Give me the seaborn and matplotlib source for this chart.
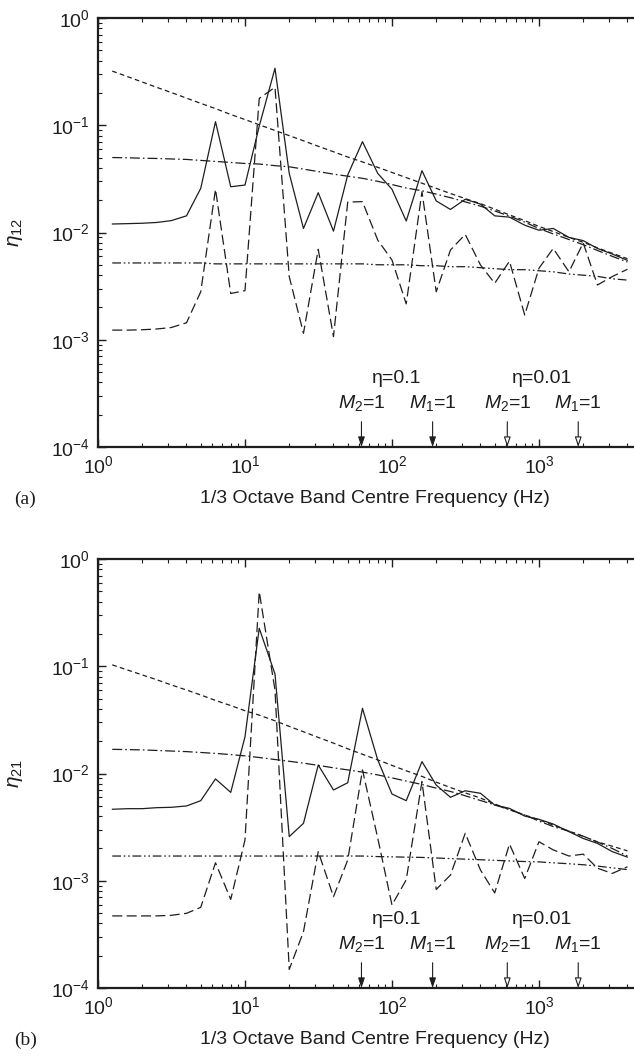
import matplotlib
matplotlib.use("Agg")
import matplotlib.pyplot as plt
import numpy as np
import pandas as pd
import seaborn as sns

# 1/3 octave band centre frequencies (Hz)
freq = [1.25, 1.6, 2, 2.5, 3.15, 4, 5, 6.3, 8, 10, 12.5, 16, 20, 25, 31.5, 40,
        50, 63, 80, 100, 125, 160, 200, 250, 315, 400, 500, 630, 800, 1000,
        1250, 1600, 2000, 2500, 3150, 4000]

# (a) eta_12
eta12_sim_01 = [0.0120, 0.0121, 0.0122, 0.0124, 0.0129, 0.0143, 0.0258, 0.108,
                0.0267, 0.0277, 0.098, 0.34, 0.0356, 0.0109, 0.0235, 0.0103,
                0.0344, 0.0703, 0.0356, 0.0253, 0.0128, 0.0377, 0.0197, 0.0164,
                0.0204, 0.0184, 0.0143, 0.0139, 0.0117, 0.0105, 0.0109, 0.0090,
                0.0084, 0.0071, 0.0063, 0.0055]
eta12_sim_001 = [0.00123, 0.00123, 0.00124, 0.00126, 0.0013, 0.00144, 0.0028,
                 0.0253, 0.0027, 0.00287, 0.178, 0.226, 0.00388, 0.00115,
                 0.00697, 0.00107, 0.0192, 0.0194, 0.0085, 0.00554, 0.00216,
                 0.024, 0.0028, 0.00687, 0.0096, 0.00498, 0.00336, 0.0054,
                 0.0017, 0.00464, 0.0071, 0.0043, 0.0080, 0.00324, 0.00388,
                 0.00454]
eta12_sea = [0.32, 0.283, 0.253, 0.226, 0.202, 0.179, 0.16, 0.143, 0.126, 0.113,
             0.101, 0.0894, 0.08, 0.0716, 0.0637, 0.0566, 0.0506, 0.0455, 0.0405,
             0.0363, 0.0325, 0.0288, 0.0258, 0.0231, 0.0207, 0.0186, 0.0165,
             0.0146, 0.0129, 0.0114, 0.0102, 0.0090, 0.0081, 0.0072, 0.0064,
             0.0057]
eta12_mod_01 = [0.050, 0.0497, 0.0493, 0.049, 0.0485, 0.048, 0.047, 0.046, 0.045,
                0.044, 0.0435, 0.042, 0.041, 0.039, 0.037, 0.035, 0.0335, 0.032,
                0.030, 0.028, 0.026, 0.0245, 0.0228, 0.0211, 0.0193, 0.0176,
                0.0159, 0.0142, 0.0125, 0.0109, 0.0097, 0.0086, 0.0077, 0.0068,
                0.0060, 0.0053]
eta12_mod_001 = [0.0052, 0.0052, 0.0052, 0.0052, 0.0052, 0.0052, 0.0052, 0.0051,
                 0.0051, 0.0051, 0.0051, 0.0051, 0.0051, 0.0051, 0.0051, 0.0051,
                 0.0051, 0.0051, 0.0050, 0.0050, 0.0050, 0.0049, 0.0049, 0.0048,
                 0.0048, 0.0047, 0.0046, 0.0045, 0.0045, 0.0044, 0.0043, 0.0041,
                 0.0040, 0.0039, 0.0037, 0.0036]

# (b) eta_21
eta21_sim_01 = [0.00464, 0.0047, 0.0047, 0.0048, 0.00484, 0.00498, 0.00558,
                0.0089, 0.00667, 0.022, 0.226, 0.0847, 0.00258, 0.00343, 0.012,
                0.00702, 0.0082, 0.0405, 0.0134, 0.00644, 0.00558, 0.0129,
                0.0078, 0.006, 0.0069, 0.00654, 0.00508, 0.00473, 0.00401,
                0.00374, 0.00338, 0.00287, 0.00248, 0.00223, 0.00187, 0.00166]
eta21_sim_001 = [0.00047, 0.00047, 0.00047, 0.00047, 0.000476, 0.000497,
                 0.000565, 0.00147, 0.00067, 0.0024, 0.496, 0.06, 0.000149,
                 0.000335, 0.00187, 0.00071, 0.00156, 0.0108, 0.0025, 0.000594,
                 0.00102, 0.0084, 0.00083, 0.00113, 0.00277, 0.00126, 0.00077,
                 0.0022, 0.00105, 0.00231, 0.00194, 0.0017, 0.00177, 0.00131,
                 0.00117, 0.00135]
eta21_sea = [0.103, 0.092, 0.083, 0.075, 0.067, 0.060, 0.054, 0.048, 0.043,
             0.0385, 0.035, 0.031, 0.0275, 0.0245, 0.0217, 0.0192, 0.017,
             0.0151, 0.0134, 0.0119, 0.0106, 0.0094, 0.0083, 0.0074, 0.0066,
             0.0059, 0.0052, 0.0046, 0.0041, 0.0037, 0.0033, 0.0029, 0.0026,
             0.0023, 0.0021, 0.0019]
eta21_mod_01 = [0.0168, 0.0167, 0.0166, 0.0164, 0.0162, 0.016, 0.0157, 0.0154,
                0.015, 0.0146, 0.0141, 0.0135, 0.013, 0.0125, 0.0119, 0.0113,
                0.0108, 0.0103, 0.0097, 0.0091, 0.0085, 0.0079, 0.0073, 0.0068,
                0.0062, 0.0056, 0.0051, 0.0046, 0.0041, 0.0036, 0.0032, 0.0029,
                0.0026, 0.0023, 0.0020, 0.0017]
eta21_mod_001 = [0.0017, 0.0017, 0.0017, 0.0017, 0.0017, 0.0017, 0.0017, 0.0017,
                 0.0017, 0.0017, 0.0017, 0.0017, 0.0017, 0.0017, 0.0017, 0.0017,
                 0.0017, 0.0017, 0.00168, 0.00167, 0.00166, 0.00165, 0.00163,
                 0.00161, 0.00159, 0.00157, 0.00155, 0.00153, 0.00151, 0.0015,
                 0.00147, 0.00144, 0.00141, 0.00137, 0.00132, 0.00127]

# M = 1 frequencies for the two damping values
m_freqs = [62, 189, 609, 1850]
m_labels = ['$M_2$=1', '$M_1$=1', '$M_2$=1', '$M_1$=1']
m_filled = [True, True, False, False]
eta_labels = ['η=0.1', 'η=0.01']
eta_label_freqs = [108, 1050]

curve_names = ['sim_01', 'sim_001', 'sea', 'mod_01', 'mod_001']
dash_map = {'sim_01': '', 'sim_001': (8.0, 3.5), 'sea': (3.8, 2.6),
            'mod_01': (8.0, 2.4, 1.3, 2.4),
            'mod_001': (7.0, 2.2, 1.3, 2.2, 1.3, 2.2)}


def make_frame(series):
    rows = []
    for name, vals in zip(curve_names, series):
        for f, v in zip(freq, vals):
            rows.append({'freq': f, 'eta': v, 'curve': name})
    return pd.DataFrame(rows)


sns.set_style('ticks')
plt.rcParams['font.family'] = ['Liberation Sans', 'DejaVu Sans']
plt.rcParams['mathtext.fontset'] = 'custom'
plt.rcParams['mathtext.rm'] = 'Liberation Sans'
plt.rcParams['mathtext.it'] = 'Liberation Sans:italic'
plt.rcParams['xtick.direction'] = 'in'
plt.rcParams['ytick.direction'] = 'in'

fig = plt.figure(figsize=(6.34, 10.6), dpi=100)
ax_w = 543.7 / 634
ax_h = 429 / 1060
ax_a = fig.add_axes([98 / 634, 1 - 447 / 1060, ax_w, ax_h])
ax_b = fig.add_axes([98 / 634, 1 - 988 / 1060, ax_w, ax_h])

panels = [
    (ax_a, [eta12_sim_01, eta12_sim_001, eta12_sea, eta12_mod_01, eta12_mod_001],
     r'$\eta_{12}$', '(a)', 1 - 499 / 1060),
    (ax_b, [eta21_sim_01, eta21_sim_001, eta21_sea, eta21_mod_01, eta21_mod_001],
     r'$\eta_{21}$', '(b)', 1 - 1040 / 1060),
]

ink = '#1e1e1e'
for ax, series, ylab, tag, tag_y in panels:
    df = make_frame(series)
    sns.lineplot(data=df, x='freq', y='eta', style='curve', dashes=dash_map,
                 style_order=curve_names, color=ink, lw=0.9, legend=False,
                 estimator=None, sort=False, ax=ax)
    ax.set_xscale('log')
    ax.set_yscale('log')
    ax.set_xlim(1, 5000)
    ax.set_ylim(1e-4, 1)
    ax.tick_params(which='both', top=True, right=False, labelsize=14,
                   color=ink, labelcolor=ink, pad=6)
    ax.tick_params(which='major', length=6, width=1)
    ax.tick_params(which='minor', length=3, width=0.8)
    for side in ['left', 'bottom', 'top']:
        ax.spines[side].set_linewidth(1.6)
        ax.spines[side].set_color(ink)
    ax.spines['right'].set_visible(False)

    ax.set_xlabel('1/3 Octave Band Centre Frequency (Hz)', fontsize=14, color=ink)
    ax.xaxis.set_label_coords(0.509, -0.101)
    ax.set_ylabel(ylab, fontsize=15, color=ink)
    ax.yaxis.set_label_coords(-0.134, 0.5)

    for lab, lf in zip(eta_labels, eta_label_freqs):
        ax.text(lf, 3.98e-4, lab, fontsize=14, ha='center', va='baseline',
                color=ink)
    for mf, ml, filled in zip(m_freqs, m_labels, m_filled):
        ax.text(mf, 2.3e-4, ml, fontsize=14, ha='center', va='baseline',
                color=ink)
        ax.annotate('', xy=(mf, 1.0e-4), xytext=(mf, 1.72e-4),
                    arrowprops=dict(arrowstyle='-|>,head_length=0.6,head_width=0.2',
                                    mutation_scale=10, lw=0.8, ec=ink,
                                    fc=ink if filled else 'white',
                                    shrinkA=0, shrinkB=0))
    fig.text(14 / 634, tag_y, tag, fontsize=14, family='Liberation Serif',
             va='center', ha='left', color=ink)

fig.savefig('out.png', dpi=100)
